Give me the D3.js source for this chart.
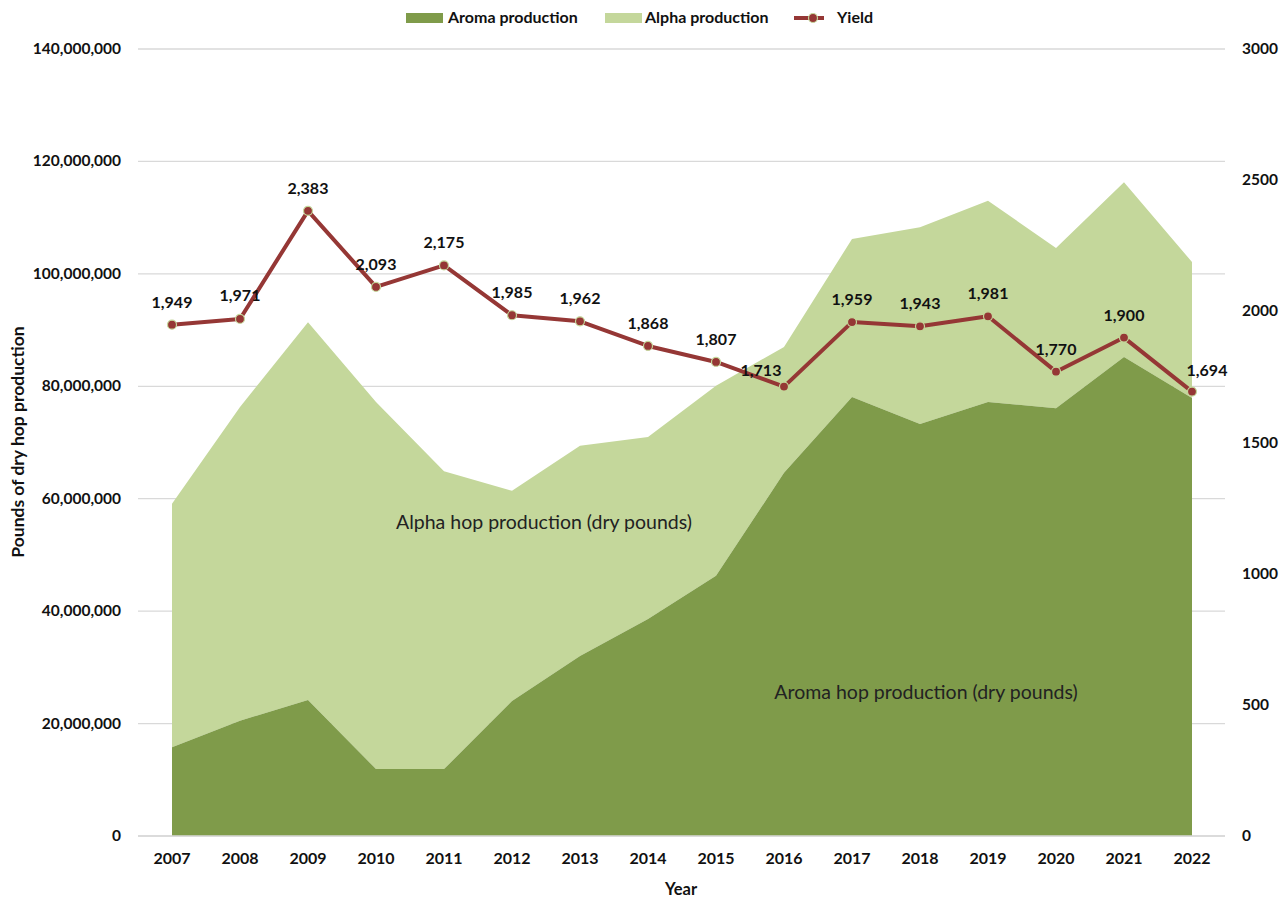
<!DOCTYPE html>
<html><head><meta charset="utf-8">
<script src="https://cdn.jsdelivr.net/npm/d3@7"></script>
<style>body{margin:0;background:#fff;} svg{display:block;font-family:Lato,"Open Sans",sans-serif;}</style>
</head><body>
<svg id="c" width="1286" height="901"></svg>
<script>
const years = [2007,2008,2009,2010,2011,2012,2013,2014,2015,2016,2017,2018,2019,2020,2021,2022];
const aroma = [15.8e6,20.5e6,24.2e6,11.9e6,11.9e6,24.0e6,32.0e6,38.6e6,46.3e6,64.6e6,78.1e6,73.3e6,77.2e6,76.1e6,85.2e6,77.9e6];
const alpha = [43.3e6,55.8e6,67.2e6,65.3e6,53.0e6,37.4e6,37.4e6,32.4e6,33.8e6,22.4e6,28.1e6,35.0e6,35.8e6,28.5e6,31.1e6,24.2e6];
const yieldV = [1949,1971,2383,2093,2175,1985,1962,1868,1807,1713,1959,1943,1981,1770,1900,1694];
const leftTicks = [0,20e6,40e6,60e6,80e6,100e6,120e6,140e6];
const rightTicks = [0,500,1000,1500,2000,2500,3000];

const svg = d3.select("#c");
const x0 = 138, x1 = 1225, yTop = 49, yBot = 836;
const x = d3.scalePoint().domain(years).range([172,1192]);
const yL = d3.scaleLinear().domain([0,140e6]).range([yBot,yTop]);
const yR = d3.scaleLinear().domain([0,3000]).range([yBot,yTop]);

svg.append("g").selectAll("line").data(leftTicks).join("line")
  .attr("x1",x0).attr("x2",x1).attr("y1",d=>yL(d)).attr("y2",d=>yL(d))
  .attr("stroke","#d9d9d9").attr("stroke-width",1.3);

const rows = years.map((yr,i)=>({yr, a:aroma[i], b:alpha[i]}));
const aArea = d3.area().x(d=>x(d.yr)).y0(yBot).y1(d=>yL(d.a));
const bArea = d3.area().x(d=>x(d.yr)).y0(d=>yL(d.a)).y1(d=>yL(d.a+d.b));
svg.append("path").attr("d",bArea(rows)).attr("fill","#c4d79b");
svg.append("path").attr("d",aArea(rows)).attr("fill","#7f9b4a");

svg.append("line").attr("x1",x0).attr("x2",x1).attr("y1",yBot).attr("y2",yBot).attr("stroke","#d9d9d9").attr("stroke-width",1.3);

svg.append("text").attr("x",544).attr("y",529).attr("text-anchor","middle").attr("font-size",19.5).attr("fill","#222").text("Alpha hop production (dry pounds)");
svg.append("text").attr("x",926).attr("y",699).attr("text-anchor","middle").attr("font-size",19.5).attr("fill","#222").text("Aroma hop production (dry pounds)");

const ln = d3.line().x((d,i)=>x(years[i])).y(d=>yR(d));
svg.append("path").attr("d",ln(yieldV)).attr("fill","none").attr("stroke","#953735").attr("stroke-width",4).attr("stroke-linejoin","round");
svg.append("g").selectAll("circle").data(yieldV).join("circle")
  .attr("cx",(d,i)=>x(years[i])).attr("cy",d=>yR(d)).attr("r",4.5)
  .attr("fill","#953735").attr("stroke","#c4d79b").attr("stroke-width",1.2);

const fmt = d3.format(",");
const off = {9:[-23,-11], 15:[15,-16], 1:[0,-18]};
svg.append("g").selectAll("text").data(yieldV).join("text")
  .attr("x",(d,i)=>x(years[i])+(off[i]?off[i][0]:0))
  .attr("y",(d,i)=>yR(d)+(off[i]?off[i][1]:-17))
  .attr("text-anchor","middle").attr("font-size",16).attr("font-weight","bold").attr("fill","#111")
  .text(d=>fmt(d));

svg.append("g").selectAll("text").data(leftTicks).join("text")
  .attr("x",121).attr("y",d=>yL(d)+5).attr("text-anchor","end")
  .attr("font-size",15.5).attr("font-weight","bold").attr("fill","#111").text(d=>fmt(d));
svg.append("g").selectAll("text").data(rightTicks).join("text")
  .attr("x",1242).attr("y",d=>yR(d)+5).attr("text-anchor","start")
  .attr("font-size",15.5).attr("font-weight","bold").attr("fill","#111").text(d=>d);
svg.append("g").selectAll("text").data(years).join("text")
  .attr("x",d=>x(d)).attr("y",864).attr("text-anchor","middle")
  .attr("font-size",16).attr("font-weight","bold").attr("fill","#111").text(d=>d);

svg.append("text").attr("x",681).attr("y",895).attr("text-anchor","middle").attr("font-size",16.5).attr("font-weight","bold").attr("fill","#111").text("Year");
svg.append("text").attr("transform","translate(24,442) rotate(-90)").attr("text-anchor","middle").attr("font-size",17.5).attr("font-weight","bold").attr("fill","#111").text("Pounds of dry hop production");

const lg = svg.append("g").attr("font-size",16).attr("font-weight","bold").attr("fill","#111");
lg.append("rect").attr("x",406).attr("y",13).attr("width",37).attr("height",10).attr("fill","#7f9b4a");
lg.append("text").attr("x",448).attr("y",23).text("Aroma production");
lg.append("rect").attr("x",605).attr("y",13).attr("width",37).attr("height",10).attr("fill","#c4d79b");
lg.append("text").attr("x",645).attr("y",23).text("Alpha production");
lg.append("line").attr("x1",794).attr("x2",824).attr("y1",18).attr("y2",18).attr("stroke","#953735").attr("stroke-width",4);
lg.append("circle").attr("cx",813).attr("cy",18).attr("r",4.5).attr("fill","#953735").attr("stroke","#c4d79b").attr("stroke-width",1.2);
lg.append("text").attr("x",837).attr("y",23).text("Yield");
</script>
</body></html>
